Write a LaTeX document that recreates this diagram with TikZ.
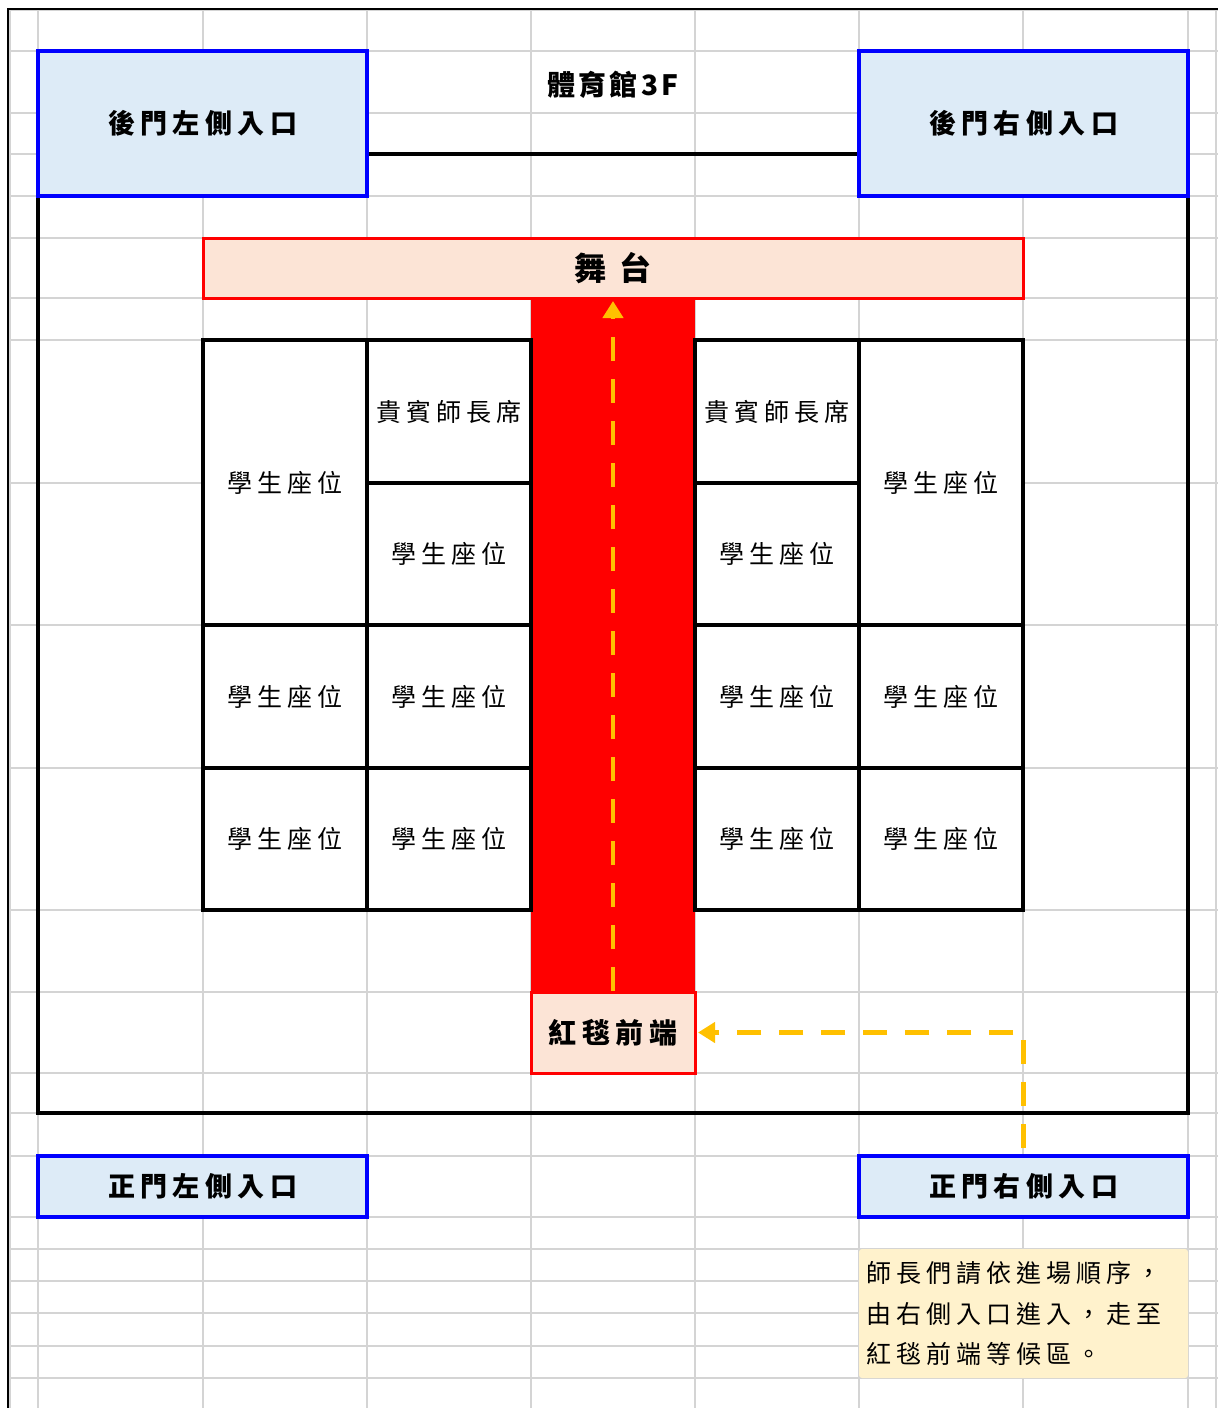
\documentclass[tikz,border=0pt]{standalone}
\usepackage{fontspec}
\setmainfont{Noto Sans CJK TC}
\newfontfamily\cjk[LetterSpace=20]{Noto Sans CJK TC}
\newfontfamily\cjkstage[LetterSpace=40]{Noto Sans CJK TC}
\newfontfamily\cjktitle[LetterSpace=12]{Noto Sans CJK TC}
\usetikzlibrary{arrows.meta}
\definecolor{gridgray}{HTML}{D4D4D4}
\definecolor{doorfill}{HTML}{DDEBF7}
\definecolor{doorblue}{HTML}{0000FF}
\definecolor{stagefill}{HTML}{FCE4D6}
\definecolor{carpetred}{HTML}{FF0000}
\definecolor{pathyellow}{HTML}{FFC000}
\definecolor{notefill}{HTML}{FFF2CC}
\tikzset{
  gridline/.style={draw=gridgray, line width=1.5pt},
  wall/.style={draw=black, line width=3.5pt},
  seat/.style={draw=black, line width=3.5pt, fill=white, inner sep=0pt,
    font=\cjk\fontsize{25}{28}\selectfont},
  door/.style={draw=doorblue, fill=doorfill, line width=3.5pt, inner sep=0pt,
    minimum width=329pt, font=\cjk\bfseries\fontsize{27}{30}\selectfont},
  stagebox/.style={draw=carpetred, fill=stagefill, line width=3pt, inner sep=0pt},
  carpet/.style={fill=carpetred, draw=none, inner sep=0pt},
  route/.style={draw=pathyellow, line width=4.5pt, dash pattern=on 24pt off 18pt,
    -{Triangle[length=17pt,width=20pt]}},
  notebox/.style={fill=notefill, draw=none, rounded corners=3pt, align=left,
    text width=315pt, inner xsep=7pt, minimum height=129pt,
    font=\cjk\fontsize{25}{40.5}\selectfont},
}
\begin{document}
\begin{tikzpicture}[x=1pt,y=-1pt]
\useasboundingbox (0,0) rectangle (1218,1408);
\fill[white] (0,0) rectangle (1218,1408);
% spreadsheet grid
\foreach \yy in {10,51,113,154,196,238,298,340,483,625,768,910,992,1073,1113,1156,1217,1249,1281,1313,1346,1378}
  \draw[gridline] (10,\yy) -- (1218,\yy);
\foreach \xx in {10,38,203,367,531,695,859,1023,1188,1216}
  \draw[gridline] (\xx,10) -- (\xx,1408);
\draw[line width=2pt] (8,1408) -- (8,9) -- (1218,9);
% building walls
\draw[wall] (38,154) rectangle (1188,1113);
% doors
\node[door, minimum height=145pt] (backL) at (202.5,123.5) {後門左側入口};
\node[door, minimum height=145pt] (backR) at (1023.5,123.5) {後門右側入口};
\node[door, minimum height=61pt] (frontL) at (202.5,1186.5) {正門左側入口};
\node[door, minimum height=61pt] (frontR) at (1023.5,1186.5) {正門右側入口};
% title
\node[font=\cjktitle\bfseries\fontsize{28}{32}\selectfont] (title) at (613,85) {體育館3F};
% red carpet
\node[carpet, minimum width=164pt, minimum height=694pt] (carpet) at (613,645) {};
% stage
\node[stagebox, minimum width=820pt, minimum height=60pt,
  font=\cjkstage\bfseries\fontsize{32}{36}\selectfont] (stage) at (613,268) {舞台};
% carpet front
\node[stagebox, minimum width=164pt, minimum height=81pt,
  font=\cjk\bfseries\fontsize{28}{32}\selectfont] (front) at (613,1032.5) {紅毯前端};
% left seats
\node[seat, minimum width=164pt, minimum height=285pt] (L1) at (285,482.5) {學生座位};
\node[seat, minimum width=164pt, minimum height=143pt] (L2) at (449,411.5) {貴賓師長席};
\node[seat, minimum width=164pt, minimum height=142pt] (L3) at (449,554) {學生座位};
\node[seat, minimum width=164pt, minimum height=143pt] (L4) at (285,696.5) {學生座位};
\node[seat, minimum width=164pt, minimum height=143pt] (L5) at (449,696.5) {學生座位};
\node[seat, minimum width=164pt, minimum height=142pt] (L6) at (285,839) {學生座位};
\node[seat, minimum width=164pt, minimum height=142pt] (L7) at (449,839) {學生座位};
% right seats
\node[seat, minimum width=164pt, minimum height=143pt] (R1) at (777,411.5) {貴賓師長席};
\node[seat, minimum width=164pt, minimum height=142pt] (R2) at (777,554) {學生座位};
\node[seat, minimum width=164pt, minimum height=285pt] (R3) at (941,482.5) {學生座位};
\node[seat, minimum width=164pt, minimum height=143pt] (R4) at (777,696.5) {學生座位};
\node[seat, minimum width=164pt, minimum height=143pt] (R5) at (941,696.5) {學生座位};
\node[seat, minimum width=164pt, minimum height=142pt] (R6) at (777,839) {學生座位};
\node[seat, minimum width=164pt, minimum height=142pt] (R7) at (941,839) {學生座位};
% note
\node[notebox] (note) at (1023.5,1313.5) {師長們請依進場順序，\\由右側入口進入，走至\\紅毯前端等候區。};
% routes
\draw[route, shorten >=1.5pt] (front.north) -- (stage.south);
\draw[route, shorten <=6pt, shorten >=1.5pt] (frontR.north) |- (front.east);
\end{tikzpicture}
\end{document}
